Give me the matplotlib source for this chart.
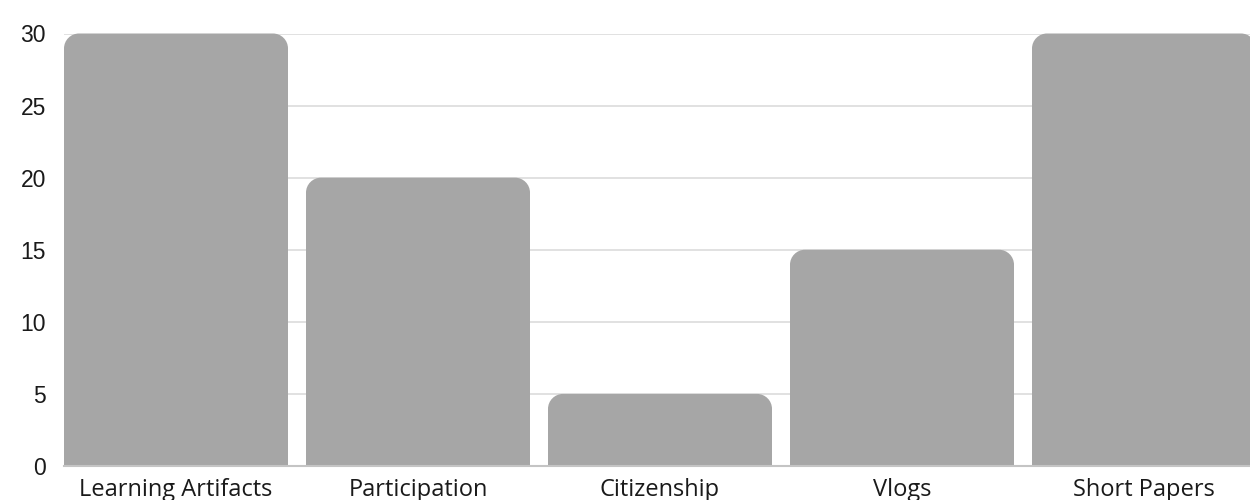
import matplotlib
matplotlib.use("Agg")
import matplotlib.pyplot as plt
from matplotlib.path import Path
from matplotlib.patches import PathPatch

categories = ["Learning Artifacts", "Participation", "Citizenship", "Vlogs", "Short Papers"]
values = [30, 20, 5, 15, 30]
yticks = [0, 5, 10, 15, 20, 25, 30]

BAR_COLOR = "#a6a6a6"
GRID_COLOR = "#dcdcdc"

fig = plt.figure(figsize=(12.5, 5), dpi=100)
ax = fig.add_axes([64 / 1250, 34 / 500, 1 - 64 / 1250, (466 - 33.5) / 500])

w = 224 / 242
x = list(range(len(categories)))
bars = ax.bar(x, values, width=w, color=BAR_COLOR, zorder=2)
ax.set_xlim(-w / 2, (1250 - 64) / 242 - w / 2)
ax.set_ylim(0, 30)

# rounded top corners (radius in pixels)
r_px = 15
fig.canvas.draw()
t = ax.transData
for b in bars:
    x0, y0 = b.get_x(), b.get_y()
    x1, y1 = x0 + b.get_width(), y0 + b.get_height()
    (px0, py0) = t.transform((x0, y0))
    (px1, py1) = t.transform((x1, y1))
    r = min(r_px, (px1 - px0) / 2, (py1 - py0))
    k = 0.5523 * r
    verts = [
        (px0, py0), (px0, py1 - r),
        (px0, py1 - r + k), (px0 + r - k, py1), (px0 + r, py1),
        (px1 - r, py1),
        (px1 - r + k, py1), (px1, py1 - r + k), (px1, py1 - r),
        (px1, py0), (px0, py0),
    ]
    codes = [Path.MOVETO, Path.LINETO,
             Path.CURVE4, Path.CURVE4, Path.CURVE4,
             Path.LINETO,
             Path.CURVE4, Path.CURVE4, Path.CURVE4,
             Path.LINETO, Path.CLOSEPOLY]
    inv = t.inverted()
    dverts = inv.transform(verts)
    patch = PathPatch(Path(dverts, codes), facecolor=BAR_COLOR, edgecolor="none",
                      zorder=2, clip_on=False)
    ax.add_patch(patch)
    b.set_visible(False)

ax.set_yticks(yticks)
ax.set_yticklabels([str(v) for v in yticks], fontfamily="Liberation Sans", fontsize=16.5, color="#1a1a1a")
ax.set_xticks(x)
ax.set_xticklabels(categories, fontfamily="Open Sans", fontsize=17, color="#1a1a1a")
ax.tick_params(axis="y", length=0, pad=13)
ax.tick_params(axis="x", length=0, pad=9)

ax.grid(axis="y", color=GRID_COLOR, linewidth=1.2, zorder=0)
ax.set_axisbelow(True)
for s in ["top", "right", "left"]:
    ax.spines[s].set_visible(False)
ax.spines["bottom"].set_color("#c4c4c4")
ax.spines["bottom"].set_linewidth(1.5)
ax.spines["bottom"].set_zorder(3)

fig.savefig("out.png", dpi=100)
